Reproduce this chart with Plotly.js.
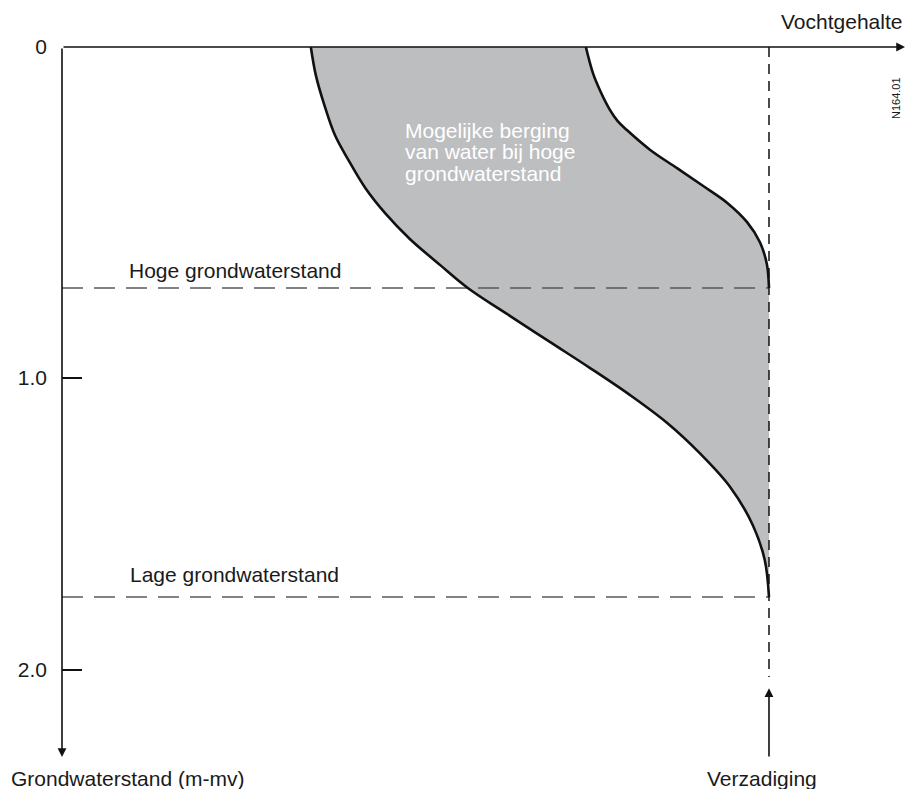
<!DOCTYPE html>
<html>
<head>
<meta charset="utf-8">
<script src="https://cdn.plot.ly/plotly-3.0.1.min.js"></script>
<style>html,body{margin:0;padding:0;background:#fff;}#chart{width:907px;height:789px;}</style>
</head>
<body>
<div id="chart"></div>
<script>
// Moisture content (fraction of saturation) vs depth (m below surface), schematic
var dryX = [0.352, 0.359, 0.371, 0.386, 0.405, 0.429, 0.457, 0.492, 0.535, 0.574, 0.634, 0.690, 0.747, 0.803, 0.856, 0.902, 0.945, 0.977, 0.994, 1.0];
var dryDepth = [0, 0.085, 0.175, 0.266, 0.341, 0.426, 0.502, 0.580, 0.659, 0.728, 0.813, 0.891, 0.970, 1.051, 1.136, 1.227, 1.329, 1.444, 1.550, 1.662];
var wetX = [0.741, 0.751, 0.762, 0.775, 0.786, 0.799, 0.832, 0.870, 0.907, 0.941, 0.969, 0.987, 0.997, 1.0];
var wetDepth = [0, 0.079, 0.136, 0.190, 0.224, 0.251, 0.311, 0.366, 0.420, 0.471, 0.529, 0.589, 0.656, 0.728];
var highGW = 0.728;
var lowGW = 1.662;
var saturation = 1.0;
var yTickVals = [0, 1.0, 1.882];
var yTickText = ['0', '1.0', '2.0'];

var FONT = 'Liberation Sans, Arial, sans-serif';
var FS = 21;

var polyX = dryX.concat(wetX.slice().reverse());
var polyY = dryDepth.concat(wetDepth.slice().reverse());

var traces = [
  {x: polyX, y: polyY, type: 'scatter', mode: 'lines', fill: 'toself',
   fillcolor: 'rgb(189,190,192)', line: {width: 0, color: 'rgba(0,0,0,0)'}, hoverinfo: 'skip'},
  {x: [0, saturation], y: [highGW, highGW], type: 'scatter', mode: 'lines',
   line: {color: '#5a5a5a', width: 1.5, dash: '21px,11px'}, hoverinfo: 'skip'},
  {x: [0, saturation], y: [lowGW, lowGW], type: 'scatter', mode: 'lines',
   line: {color: '#5a5a5a', width: 1.5, dash: '21px,11px'}, hoverinfo: 'skip'},
  {x: [saturation, saturation], y: [0, 1.903], type: 'scatter', mode: 'lines',
   line: {color: '#111', width: 1.5, dash: '10px,7px'}, hoverinfo: 'skip'},
  {x: dryX, y: dryDepth, type: 'scatter', mode: 'lines',
   line: {color: '#111', width: 2.6, shape: 'spline', smoothing: 1.0}, hoverinfo: 'skip'},
  {x: wetX, y: wetDepth, type: 'scatter', mode: 'lines',
   line: {color: '#111', width: 2.6, shape: 'spline', smoothing: 1.0}, hoverinfo: 'skip'}
];

function txt(text, x, y, xanchor, color) {
  return {text: text, x: x, y: y, xref: 'x', yref: 'y', xanchor: xanchor, yanchor: 'middle',
    showarrow: false, font: {family: FONT, size: FS, color: color || '#1a1a1a'}};
}
function ptxt(text, x, y, xanchor) {
  return {text: text, x: x, y: y, xref: 'paper', yref: 'paper', xanchor: xanchor, yanchor: 'middle',
    showarrow: false, font: {family: FONT, size: FS, color: '#1a1a1a'}};
}
function arrow(x, y, ax, ay) {
  return {x: x, y: y, ax: ax, ay: ay, xref: 'x', yref: 'y', axref: 'x', ayref: 'y', text: '',
    showarrow: true, arrowhead: 2, arrowsize: 1.1, arrowwidth: 1.6, arrowcolor: '#111', standoff: 0};
}

var annotations = [
  arrow(0, 2.145, 0, 0),
  arrow(1.1924, 0, 0, 0),
  arrow(saturation, 1.937, saturation, 2.148),
  txt('Hoge grondwaterstand', 0.0920, 0.674, 'left'),
  txt('Lage grondwaterstand', 0.0935, 1.595, 'left'),
  txt('Mogelijke berging', 0.483, 0.251, 'left', '#ffffff'),
  txt('van water bij hoge', 0.483, 0.317, 'left', '#ffffff'),
  txt('grondwaterstand', 0.483, 0.381, 'left', '#ffffff'),
  ptxt('Vochtgehalte', 0.996, 1.0337, 'right'),
  ptxt('Grondwaterstand (m-mv)', -0.0625, 0.0148, 'left'),
  ptxt('Verzadiging', 0.8284, 0.0148, 'center'),
  {text: 'N164.01', x: 0.987, y: 0.9313, xref: 'paper', yref: 'paper', xanchor: 'center', yanchor: 'middle',
   textangle: -90, showarrow: false, font: {family: FONT, size: 11, color: '#1a1a1a'}}
];

var layout = {
  width: 907, height: 789,
  margin: {l: 62, r: 0, t: 47, b: 0, pad: 0},
  paper_bgcolor: '#ffffff', plot_bgcolor: '#ffffff',
  showlegend: false,
  xaxis: {range: [0, 1.1952], visible: false, fixedrange: true},
  yaxis: {range: [2.2417, 0], showgrid: false, zeroline: false, showline: false,
    tickmode: 'array', tickvals: yTickVals, ticktext: yTickText,
    ticks: 'inside', ticklen: 20, tickwidth: 1.3, tickcolor: '#111',
    ticklabelstandoff: 14,
    tickfont: {family: FONT, size: FS, color: '#1a1a1a'}, fixedrange: true},
  annotations: annotations
};

Plotly.newPlot('chart', traces, layout, {displayModeBar: false, staticPlot: true});
</script>
</body>
</html>
